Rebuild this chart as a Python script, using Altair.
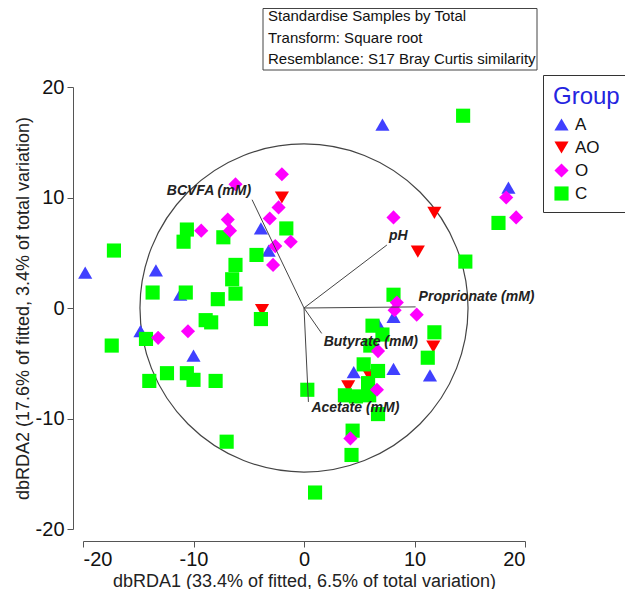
import altair as alt
import pandas as pd
import math

# ---------------- data ----------------
groups = ["A", "AO", "O", "C"]
group_colors = ["#4040ff", "#ff0000", "#ff00ff", "#00ff00"]
group_shapes = ["triangle-up", "triangle-down", "diamond", "square"]

a_x = [-19.8, -13.4, -11.2, -14.8, -10.0, -3.9, -3.2, 7.1, 18.5, 8.1, 8.1, 4.5, 11.4, 6.8]
a_y = [3.2, 3.4, 1.2, -2.1, -4.3, 7.2, 5.2, 16.6, 10.9, -0.8, -5.5, -5.8, -6.1, -1.6]

ao_x = [-2.0, 11.8, 10.3, 11.7, -3.8, 5.9, 4.0]
ao_y = [10.0, 8.6, 5.1, -3.5, -0.2, -6.1, -7.1]

o_x = [-6.2, -2.0, -2.3, -3.1, -9.3, -6.9, -6.7, -1.2, -2.6, -2.8, -13.2, -10.5,
       8.1, 18.3, 19.2, 8.4, 8.2, 10.2, 6.7, 6.6, 4.2]
o_y = [11.2, 12.1, 9.1, 8.1, 7.0, 8.0, 7.0, 6.0, 5.6, 3.9, -2.7, -2.1,
       8.2, 10.0, 8.2, 0.5, -0.2, -0.6, -3.9, -7.4, -11.8]

c_x = [-17.2, -10.6, -10.9, -7.3, -6.2, -6.5, -6.2, -13.7, -10.7, -7.8, -1.6, -4.3,
       -8.9, -8.4, -14.3, -17.4, -14.0, -12.4, -10.6, -10.0, -8.0, -3.9, 0.3, -7.0,
       1.0, 14.4, 17.6, 14.6, 11.8, 11.2, 8.1, 6.2, 7.1, 6.0, 5.4, 6.7, 5.8, 3.7,
       4.7, 5.9, 6.7, 4.4, 4.3]
c_y = [5.2, 7.1, 6.0, 6.4, 3.9, 2.6, 1.3, 1.4, 1.4, 0.8, 7.2, 4.8,
       -1.1, -1.3, -2.8, -3.4, -6.6, -5.9, -5.9, -6.5, -6.6, -1.0, -7.4, -12.1,
       -16.7, 17.4, 7.7, 4.2, -2.2, -4.5, 1.2, -1.6, -2.4, -3.4, -5.1, -5.7, -6.8, -7.9,
       -8.0, -7.9, -9.6, -11.1, -13.3]

vec_names = ["BCVFA (mM)", "pH", "Proprionate (mM)", "Butyrate (mM)", "Acetate (mM)"]
vec_x = [-4.7, 7.5, 10.1, 1.6, 0.4]
vec_y = [9.8, 5.7, 0.1, -2.3, -8.5]

circle_radius = 16.75

axis_ticks = [-20, -10, 0, 10, 20]
x_title = "dbRDA1 (33.4% of fitted, 6.5% of total variation)"
y_title = "dbRDA2 (17.6% of fitted, 3.4% of total variation)"
title_lines = ["Standardise Samples by Total",
               "Transform: Square root",
               "Resemblance: S17 Bray Curtis similarity"]

# ---------------- tables ----------------
frames = []
for g, xs_, ys_ in [("A", a_x, a_y), ("AO", ao_x, ao_y), ("C", c_x, c_y), ("O", o_x, o_y)]:
    frames.append(pd.DataFrame({"x": xs_, "y": ys_, "group": g}))
pts = pd.concat(frames, ignore_index=True)

vec_df = pd.DataFrame({"name": vec_names, "x": [0.0] * len(vec_x), "y": [0.0] * len(vec_y),
                       "x2": vec_x, "y2": vec_y})
lab_df = pd.DataFrame({"name": vec_names, "x": vec_x, "y": vec_y})
circ_df = pd.DataFrame({"x": [0.0], "y": [0.0]})

W = H = 442
px_per_unit = W / 40.0
sc_x = alt.Scale(domain=[-20, 20], nice=False, zero=False)
sc_y = alt.Scale(domain=[-20, 20], nice=False, zero=False)

X = alt.X("x:Q", scale=sc_x, title=x_title,
          axis=alt.Axis(values=axis_ticks, offset=12, tickSize=6, labelFontSize=20,
                        titleFontSize=18, labelPadding=2, titlePadding=3,
                        labelExpr="toString(datum.value)"))
Y = alt.Y("y:Q", scale=sc_y, title=y_title,
          axis=alt.Axis(values=axis_ticks, offset=10, tickSize=6, labelFontSize=20,
                        titleFontSize=18, labelPadding=3, titlePadding=3,
                        labelExpr="toString(datum.value)"))

circle = alt.Chart(circ_df).mark_point(
    shape="circle", filled=False, color="#444", strokeWidth=1.2, opacity=1,
    size=math.pi * (circle_radius * px_per_unit) ** 2
).encode(x=X, y=Y)

points = alt.Chart(pts).mark_point(filled=True, opacity=1, strokeWidth=0).encode(
    x=X, y=Y,
    color=alt.Color("group:N", title="Group",
                    scale=alt.Scale(domain=groups, range=group_colors)),
    shape=alt.Shape("group:N", title="Group",
                    scale=alt.Scale(domain=groups, range=group_shapes)),
    size=alt.Size("group:N", title="Group",
                  scale=alt.Scale(domain=groups, range=[200, 200, 220, 180])),
)

rules = alt.Chart(vec_df).mark_rule(color="#444", strokeWidth=1).encode(
    x=X, y=Y, x2="x2:Q", y2="y2:Q")

label_style = {
    "BCVFA (mM)": dict(align="right", dx=-1, dy=-9),
    "pH": dict(align="left", dx=2, dy=-9),
    "Proprionate (mM)": dict(align="left", dx=3, dy=-10),
    "Butyrate (mM)": dict(align="left", dx=2, dy=9),
    "Acetate (mM)": dict(align="left", dx=3, dy=6),
}
labels = []
for nm in vec_names:
    st = label_style[nm]
    labels.append(
        alt.Chart(lab_df).transform_filter(alt.datum.name == nm).mark_text(
            font="Liberation Sans", fontSize=14, fontStyle="italic", fontWeight="bold",
            color="#222", baseline="middle", **st
        ).encode(x=X, y=Y, text="name:N")
    )

box_df = pd.DataFrame({"t": ["\n".join(title_lines)]})
box = alt.Chart(box_df).mark_rect(fill="white", stroke="#444", strokeWidth=1).encode(
    x=alt.value(180), x2=alt.value(454), y=alt.value(-78.5), y2=alt.value(-17))
box_text = alt.Chart(box_df).mark_text(
    align="left", baseline="top", lineBreak="\n", lineHeight=21.5,
    font="Liberation Sans", fontSize=15, color="#111"
).encode(x=alt.value(185), y=alt.value(-78), text="t:N")

chart = alt.layer(circle, points, rules, *labels, box, box_text).properties(
    width=W, height=H,
    autosize=alt.AutoSizeParams(type="none"),
    padding={"left": 75, "top": 79, "right": 100, "bottom": 60},
).configure_view(stroke=None).configure_axis(
    grid=False, domainColor="#555", tickColor="#555", labelColor="#111",
    titleColor="#222", labelFont="Liberation Sans", titleFont="Liberation Sans",
    titleFontWeight="normal"
).configure_legend(
    orient="none", legendX=460, legendY=-12, strokeColor="#333", padding=10,
    titleFontSize=24, titleColor="#2424e0", titleFont="Liberation Sans",
    titleFontWeight="normal", labelFontSize=17, labelFont="Liberation Sans",
    labelColor="#111", symbolStrokeWidth=0, symbolOpacity=1, rowPadding=5,
    titlePadding=7, labelOffset=5
)

chart.save("out.html", embed_options={"renderer": "svg", "actions": False})
